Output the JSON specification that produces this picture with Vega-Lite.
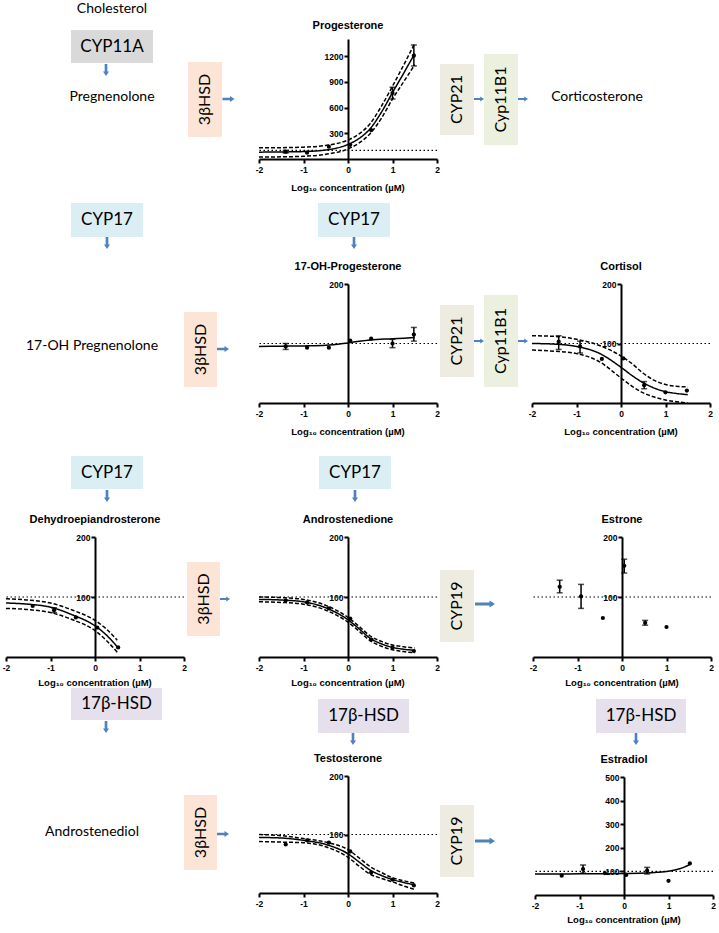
{
"$schema":"https://vega.github.io/schema/vega-lite/v6.json",
"padding":0,
"spacing":0,
"config":{"view":{"stroke":null},"concat":{"spacing":0},
 "title":{"font":"Liberation Sans","fontWeight":"bold","fontSize":11,"color":"black","offset":8},
 "axis":{"grid":false,"domainColor":"black","domainWidth":2,"tickColor":"black","tickWidth":2,"tickSize":4,"labelFont":"Liberation Sans","labelFontWeight":"bold","labelFontSize":8.5,"labelColor":"black","labelPadding":1,"labelOverlap":false},
 "axisX":{"labelPadding":2,"labelFlush":false}},
"vconcat":[
{"spacing":0,"hconcat":[
 {"width":65,"height":195,"data":{"values":[]},"mark":"point"},
 {"spacing":0,"vconcat":[
  {"width":94,"height":18,"data":{"values":[{"t":"Cholesterol"}]},"mark":{"type":"text","font":"Lato","fontSize":14,"color":"black"},"encoding":{"text":{"field":"t"}}},
  {"width":94,"height":12,"data":{"values":[]},"mark":"point"},
  {"spacing":0,"bounds":"flush","hconcat":[
   {"width":6,"height":33,"data":{"values":[]},"mark":"point"},
   {"width":82,"height":33,"data":{"values":[{"t":"CYP11A"}]},"layer":[{"mark":{"type":"rect","color":"#d9d9d9"}},{"mark":{"type":"text","font":"Lato","fontSize":17,"color":"black"},"encoding":{"text":{"field":"t"}}}]},
   {"width":6,"height":33,"data":{"values":[]},"mark":"point"}]},
  {"spacing":0,"bounds":"flush","hconcat":[
   {"width":34,"height":14,"data":{"values":[]},"mark":"point"},
   {"width":14,"height":14,"data":{"values":[{}]},"mark":{"type":"point","shape":"M-0.22,-1L0.22,-1L0.22,0.25L0.5,0.25L0,1L-0.5,0.25L-0.22,0.25Z","size":144,"filled":true,"color":"#4f81bd","opacity":1,"strokeWidth":0}},
   {"width":46,"height":14,"data":{"values":[]},"mark":"point"}]},
  {"width":94,"height":12,"data":{"values":[]},"mark":"point"},
  {"width":94,"height":16,"data":{"values":[{"t":"Pregnenolone"}]},"mark":{"type":"text","font":"Lato","fontSize":14,"color":"black"},"encoding":{"text":{"field":"t"}}},
  {"width":94,"height":90,"data":{"values":[]},"mark":"point"}]},
 {"width":29,"height":195,"data":{"values":[]},"mark":"point"},
 {"spacing":0,"bounds":"flush","vconcat":[
  {"width":34,"height":62,"data":{"values":[]},"mark":"point"},
  {"width":34,"height":75,"data":{"values":[{"t":"3βHSD"}]},"layer":[{"mark":{"type":"rect","color":"#fce4d6"}},{"mark":{"type":"text","font":"Lato","fontSize":16,"angle":270,"color":"black"},"encoding":{"text":{"field":"t"}}}]},
  {"width":34,"height":58,"data":{"values":[]},"mark":"point"}]},
 {"spacing":0,"bounds":"flush","vconcat":[
  {"width":13,"height":92,"data":{"values":[]},"mark":"point"},
  {"width":13,"height":14,"data":{"values":[{}]},"mark":{"type":"point","shape":"M-1,-0.22L0.25,-0.22L0.25,-0.5L1,0L0.25,0.5L0.25,0.22L-1,0.22Z","size":144,"filled":true,"color":"#4f81bd","opacity":1,"strokeWidth":0}},
  {"width":13,"height":89,"data":{"values":[]},"mark":"point"}]},
 {"width":20,"height":195,"data":{"values":[]},"mark":"point"},
 {"spacing":0,"bounds":"flush","vconcat":[
  {"width":178,"height":39,"data":{"values":[]},"mark":"point"},
  {"width":178,"height":120,"title":"Progesterone","layer":[
   {"data":{"values":[{"y":100}]},"mark":{"type":"rule","strokeDash":[1.5,2.5],"strokeWidth":1.2,"color":"black"},"encoding":{"y":{"field":"y","type":"quantitative","scale":{"domain":[0,1400],"nice":false},"axis":{"values":[300,600,900,1200],"offset":-89,"title":null,"format":"d"}}}},
   {"data":{"values":[
    {"b":"f","x":-2,"y":80},{"b":"f","x":-1.5,"y":82},{"b":"f","x":-1,"y":87},{"b":"f","x":-0.5,"y":105},{"b":"f","x":0,"y":170},{"b":"f","x":0.25,"y":240},{"b":"f","x":0.5,"y":355},{"b":"f","x":0.75,"y":545},{"b":"f","x":1,"y":775},{"b":"f","x":1.25,"y":1000},{"b":"f","x":1.5,"y":1230},
    {"b":"u","x":-2,"y":130},{"b":"u","x":-1.5,"y":132},{"b":"u","x":-1,"y":138},{"b":"u","x":-0.5,"y":158},{"b":"u","x":0,"y":222},{"b":"u","x":0.25,"y":292},{"b":"u","x":0.5,"y":415},{"b":"u","x":0.75,"y":615},{"b":"u","x":1,"y":850},{"b":"u","x":1.25,"y":1095},{"b":"u","x":1.5,"y":1350},
    {"b":"l","x":-2,"y":22},{"b":"l","x":-1.5,"y":25},{"b":"l","x":-1,"y":32},{"b":"l","x":-0.5,"y":55},{"b":"l","x":0,"y":118},{"b":"l","x":0.25,"y":188},{"b":"l","x":0.5,"y":298},{"b":"l","x":0.75,"y":475},{"b":"l","x":1,"y":700},{"b":"l","x":1.25,"y":900},{"b":"l","x":1.5,"y":1100}]},
    "mark":{"type":"line","interpolate":"monotone","color":"black","strokeWidth":1.5},
    "encoding":{"x":{"field":"x","type":"quantitative","scale":{"domain":[-2,2],"nice":false},"axis":{"values":[-2,-1,0,1,2],"title":null,"labelExpr":"replace(datum.label,'−','-')"}},"y":{"field":"y","type":"quantitative","scale":{"domain":[0,1400],"nice":false},"axis":{"values":[300,600,900,1200],"offset":-89,"title":null,"format":"d"}},"detail":{"field":"b"},"strokeDash":{"field":"b","type":"nominal","scale":{"domain":["f","u","l"],"range":[[1,0],[4,2],[4,2]]},"legend":null}}},
   {"data":{"values":[{"x":-1.4,"lo":70,"hi":100},{"x":1,"lo":700,"hi":837},{"x":1.48,"lo":1085,"hi":1330}]},
    "mark":{"type":"errorbar","ticks":true,"size":6,"thickness":1.5,"color":"black"},
    "encoding":{"x":{"field":"x","type":"quantitative","scale":{"domain":[-2,2],"nice":false},"axis":{"values":[-2,-1,0,1,2],"title":null,"labelExpr":"replace(datum.label,'−','-')"}},"y":{"field":"lo","type":"quantitative","scale":{"domain":[0,1400],"nice":false},"axis":{"values":[300,600,900,1200],"offset":-89,"title":null,"format":"d"}},"y2":{"field":"hi"}}},
   {"data":{"values":[{"x":-1.4,"y":85},{"x":-0.92,"y":74},{"x":-0.43,"y":144},{"x":0.05,"y":165},{"x":0.52,"y":338},{"x":1,"y":770},{"x":1.48,"y":1205}]},
    "mark":{"type":"circle","size":18,"color":"black","opacity":1},
    "encoding":{"x":{"field":"x","type":"quantitative","scale":{"domain":[-2,2],"nice":false},"axis":{"values":[-2,-1,0,1,2],"title":null,"labelExpr":"replace(datum.label,'−','-')"}},"y":{"field":"y","type":"quantitative","scale":{"domain":[0,1400],"nice":false},"axis":{"values":[300,600,900,1200],"offset":-89,"title":null,"format":"d"}}}}
  ]},
  {"width":178,"height":23,"data":{"values":[]},"mark":"point"},
  {"width":178,"height":12,"data":{"values":[{"t":"Log₁₀ concentration (µM)"}]},"mark":{"type":"text","font":"Liberation Sans","fontWeight":"bold","fontSize":9.5,"color":"black"},"encoding":{"text":{"field":"t"}}},
  {"width":178,"height":1,"data":{"values":[]},"mark":"point"}]},
 {"spacing":0,"bounds":"flush","vconcat":[
  {"width":34,"height":64,"data":{"values":[]},"mark":"point"},
  {"width":34,"height":71,"data":{"values":[{"t":"CYP21"}]},"layer":[{"mark":{"type":"rect","color":"#eeece1"}},{"mark":{"type":"text","font":"Lato","fontSize":16,"angle":270,"color":"black"},"encoding":{"text":{"field":"t"}}}]},
  {"width":34,"height":60,"data":{"values":[]},"mark":"point"}]},
 {"spacing":0,"bounds":"flush","vconcat":[
  {"width":10,"height":92,"data":{"values":[]},"mark":"point"},
  {"width":10,"height":14,"data":{"values":[{}]},"mark":{"type":"point","shape":"M-1,-0.22L0.25,-0.22L0.25,-0.5L1,0L0.25,0.5L0.25,0.22L-1,0.22Z","size":100,"filled":true,"color":"#4f81bd","opacity":1,"strokeWidth":0}},
  {"width":10,"height":89,"data":{"values":[]},"mark":"point"}]},
 {"spacing":0,"bounds":"flush","vconcat":[
  {"width":34,"height":54,"data":{"values":[]},"mark":"point"},
  {"width":34,"height":91,"data":{"values":[{"t":"Cyp11B1"}]},"layer":[{"mark":{"type":"rect","color":"#ebf1de"}},{"mark":{"type":"text","font":"Lato","fontSize":16,"angle":270,"color":"black"},"encoding":{"text":{"field":"t"}}}]},
  {"width":34,"height":50,"data":{"values":[]},"mark":"point"}]},
 {"spacing":0,"bounds":"flush","vconcat":[
  {"width":10,"height":92,"data":{"values":[]},"mark":"point"},
  {"width":10,"height":14,"data":{"values":[{}]},"mark":{"type":"point","shape":"M-1,-0.22L0.25,-0.22L0.25,-0.5L1,0L0.25,0.5L0.25,0.22L-1,0.22Z","size":100,"filled":true,"color":"#4f81bd","opacity":1,"strokeWidth":0}},
  {"width":10,"height":89,"data":{"values":[]},"mark":"point"}]},
 {"spacing":0,"bounds":"flush","vconcat":[
  {"width":138,"height":89,"data":{"values":[]},"mark":"point"},
  {"width":138,"height":16,"data":{"values":[{"t":"Corticosterone"}]},"mark":{"type":"text","font":"Lato","fontSize":14,"color":"black"},"encoding":{"text":{"field":"t"}}},
  {"width":138,"height":90,"data":{"values":[]},"mark":"point"}]},
 {"width":53,"height":195,"data":{"values":[]},"mark":"point"}
]},

{"spacing":0,"hconcat":[
 {"spacing":0,"vconcat":[
  {"spacing":0,"hconcat":[
   {"width":71,"height":54,"data":{"values":[]},"mark":"point"},
   {"spacing":0,"bounds":"flush","vconcat":[
    {"width":72,"height":8,"data":{"values":[]},"mark":"point"},
    {"width":72,"height":34,"data":{"values":[{"t":"CYP17"}]},"layer":[{"mark":{"type":"rect","color":"#dbeef4"}},{"mark":{"type":"text","font":"Lato","fontSize":17,"color":"black"},"encoding":{"text":{"field":"t"}}}]},
    {"width":72,"height":12,"data":{"values":[{}]},"mark":{"type":"point","shape":"M-0.22,-1L0.22,-1L0.22,0.25L0.5,0.25L0,1L-0.5,0.25L-0.22,0.25Z","size":144,"filled":true,"color":"#4f81bd","opacity":1,"strokeWidth":0}}]},
   {"width":41,"height":54,"data":{"values":[]},"mark":"point"}]},
  {"width":184,"height":89,"data":{"values":[]},"mark":"point"},
  {"width":184,"height":16,"data":{"values":[{"t":"17-OH Pregnenolone"}]},"mark":{"type":"text","font":"Lato","fontSize":14,"color":"black"},"encoding":{"text":{"field":"t"}}},
  {"width":184,"height":86,"data":{"values":[]},"mark":"point"}]},
 {"spacing":0,"bounds":"flush","vconcat":[
  {"width":33,"height":117,"data":{"values":[]},"mark":"point"},
  {"width":33,"height":75,"data":{"values":[{"t":"3βHSD"}]},"layer":[{"mark":{"type":"rect","color":"#fce4d6"}},{"mark":{"type":"text","font":"Lato","fontSize":16,"angle":270,"color":"black"},"encoding":{"text":{"field":"t"}}}]},
  {"width":33,"height":53,"data":{"values":[]},"mark":"point"}]},
 {"spacing":0,"bounds":"flush","vconcat":[
  {"width":12,"height":147,"data":{"values":[]},"mark":"point"},
  {"width":12,"height":14,"data":{"values":[{}]},"mark":{"type":"point","shape":"M-1,-0.22L0.25,-0.22L0.25,-0.5L1,0L0.25,0.5L0.25,0.22L-1,0.22Z","size":144,"filled":true,"color":"#4f81bd","opacity":1,"strokeWidth":0}},
  {"width":12,"height":84,"data":{"values":[]},"mark":"point"}]},
 {"width":26,"height":245,"data":{"values":[]},"mark":"point"},
 {"spacing":0,"vconcat":[
  {"spacing":0,"hconcat":[
   {"width":59,"height":54,"data":{"values":[]},"mark":"point"},
   {"spacing":0,"bounds":"flush","vconcat":[
    {"width":72,"height":8,"data":{"values":[]},"mark":"point"},
    {"width":72,"height":34,"data":{"values":[{"t":"CYP17"}]},"layer":[{"mark":{"type":"rect","color":"#dbeef4"}},{"mark":{"type":"text","font":"Lato","fontSize":17,"color":"black"},"encoding":{"text":{"field":"t"}}}]},
    {"width":72,"height":12,"data":{"values":[{}]},"mark":{"type":"point","shape":"M-0.22,-1L0.22,-1L0.22,0.25L0.5,0.25L0,1L-0.5,0.25L-0.22,0.25Z","size":144,"filled":true,"color":"#4f81bd","opacity":1,"strokeWidth":0}}]},
   {"width":47,"height":54,"data":{"values":[]},"mark":"point"}]},
  {"spacing":0,"bounds":"flush","vconcat":[
   {"width":178,"height":35,"data":{"values":[]},"mark":"point"},
   {"width":178,"height":119,"title":"17-OH-Progesterone","layer":[
    {"data":{"values":[{"y":100}]},"mark":{"type":"rule","strokeDash":[1.5,2.5],"strokeWidth":1.2,"color":"black"},"encoding":{"y":{"field":"y","type":"quantitative","scale":{"domain":[0,200],"nice":false},"axis":{"values":[200],"offset":-89,"title":null,"format":"d"}}}},
    {"data":{"values":[{"b":"f","x":-2,"y":95},{"b":"f","x":-1.5,"y":95.5},{"b":"f","x":-1,"y":96},{"b":"f","x":-0.5,"y":97},{"b":"f","x":0,"y":101},{"b":"f","x":0.5,"y":106},{"b":"f","x":1,"y":108},{"b":"f","x":1.5,"y":110}]},
     "mark":{"type":"line","interpolate":"monotone","color":"black","strokeWidth":1.5},
     "encoding":{"x":{"field":"x","type":"quantitative","scale":{"domain":[-2,2],"nice":false},"axis":{"values":[-2,-1,0,1,2],"title":null,"labelExpr":"replace(datum.label,'−','-')"}},"y":{"field":"y","type":"quantitative","scale":{"domain":[0,200],"nice":false},"axis":{"values":[200],"offset":-89,"title":null,"format":"d"}},"detail":{"field":"b"}}},
    {"data":{"values":[{"x":-1.4,"lo":90,"hi":100},{"x":1,"lo":93,"hi":107},{"x":1.48,"lo":104,"hi":127}]},
     "mark":{"type":"errorbar","ticks":true,"size":6,"thickness":1.5,"color":"black"},
     "encoding":{"x":{"field":"x","type":"quantitative","scale":{"domain":[-2,2],"nice":false},"axis":{"values":[-2,-1,0,1,2],"title":null,"labelExpr":"replace(datum.label,'−','-')"}},"y":{"field":"lo","type":"quantitative","scale":{"domain":[0,200],"nice":false},"axis":{"values":[200],"offset":-89,"title":null,"format":"d"}},"y2":{"field":"hi"}}},
    {"data":{"values":[{"x":-1.4,"y":95},{"x":-0.92,"y":93},{"x":-0.43,"y":93},{"x":0.05,"y":105},{"x":0.52,"y":108},{"x":1,"y":100},{"x":1.48,"y":115}]},
     "mark":{"type":"circle","size":18,"color":"black","opacity":1},
     "encoding":{"x":{"field":"x","type":"quantitative","scale":{"domain":[-2,2],"nice":false},"axis":{"values":[-2,-1,0,1,2],"title":null,"labelExpr":"replace(datum.label,'−','-')"}},"y":{"field":"y","type":"quantitative","scale":{"domain":[0,200],"nice":false},"axis":{"values":[200],"offset":-89,"title":null,"format":"d"}}}}
   ]},
   {"width":178,"height":23,"data":{"values":[]},"mark":"point"},
   {"width":178,"height":12,"data":{"values":[{"t":"Log₁₀ concentration (µM)"}]},"mark":{"type":"text","font":"Liberation Sans","fontWeight":"bold","fontSize":9.5,"color":"black"},"encoding":{"text":{"field":"t"}}},
   {"width":178,"height":2,"data":{"values":[]},"mark":"point"}]}]},
 {"spacing":0,"bounds":"flush","vconcat":[
  {"width":34,"height":110,"data":{"values":[]},"mark":"point"},
  {"width":34,"height":72,"data":{"values":[{"t":"CYP21"}]},"layer":[{"mark":{"type":"rect","color":"#eeece1"}},{"mark":{"type":"text","font":"Lato","fontSize":16,"angle":270,"color":"black"},"encoding":{"text":{"field":"t"}}}]},
  {"width":34,"height":63,"data":{"values":[]},"mark":"point"}]},
 {"spacing":0,"bounds":"flush","vconcat":[
  {"width":10,"height":139,"data":{"values":[]},"mark":"point"},
  {"width":10,"height":14,"data":{"values":[{}]},"mark":{"type":"point","shape":"M-1,-0.22L0.25,-0.22L0.25,-0.5L1,0L0.25,0.5L0.25,0.22L-1,0.22Z","size":100,"filled":true,"color":"#4f81bd","opacity":1,"strokeWidth":0}},
  {"width":10,"height":92,"data":{"values":[]},"mark":"point"}]},
 {"spacing":0,"bounds":"flush","vconcat":[
  {"width":34,"height":100,"data":{"values":[]},"mark":"point"},
  {"width":34,"height":92,"data":{"values":[{"t":"Cyp11B1"}]},"layer":[{"mark":{"type":"rect","color":"#ebf1de"}},{"mark":{"type":"text","font":"Lato","fontSize":16,"angle":270,"color":"black"},"encoding":{"text":{"field":"t"}}}]},
  {"width":34,"height":53,"data":{"values":[]},"mark":"point"}]},
 {"spacing":0,"bounds":"flush","vconcat":[
  {"width":10,"height":139,"data":{"values":[]},"mark":"point"},
  {"width":10,"height":14,"data":{"values":[{}]},"mark":{"type":"point","shape":"M-1,-0.22L0.25,-0.22L0.25,-0.5L1,0L0.25,0.5L0.25,0.22L-1,0.22Z","size":100,"filled":true,"color":"#4f81bd","opacity":1,"strokeWidth":0}},
  {"width":10,"height":92,"data":{"values":[]},"mark":"point"}]},
 {"spacing":0,"bounds":"flush","vconcat":[
  {"width":178,"height":89,"data":{"values":[]},"mark":"point"},
  {"width":178,"height":119,"title":"Cortisol","layer":[
   {"data":{"values":[{"y":100}]},"mark":{"type":"rule","strokeDash":[1.5,2.5],"strokeWidth":1.2,"color":"black"},"encoding":{"y":{"field":"y","type":"quantitative","scale":{"domain":[0,200],"nice":false},"axis":{"values":[100,200],"offset":-89,"title":null,"format":"d"}}}},
   {"data":{"values":[
    {"b":"f","x":-2,"y":100},{"b":"f","x":-1.5,"y":99},{"b":"f","x":-1,"y":95},{"b":"f","x":-0.5,"y":84},{"b":"f","x":0,"y":60},{"b":"f","x":0.25,"y":46},{"b":"f","x":0.5,"y":34},{"b":"f","x":0.75,"y":25},{"b":"f","x":1,"y":19},{"b":"f","x":1.25,"y":16},{"b":"f","x":1.5,"y":14},
    {"b":"u","x":-2,"y":113},{"b":"u","x":-1.5,"y":112},{"b":"u","x":-1,"y":107},{"b":"u","x":-0.5,"y":97},{"b":"u","x":0,"y":79},{"b":"u","x":0.25,"y":66},{"b":"u","x":0.5,"y":50},{"b":"u","x":0.75,"y":38},{"b":"u","x":1,"y":31},{"b":"u","x":1.25,"y":28},{"b":"u","x":1.5,"y":27},
    {"b":"l","x":-2,"y":89},{"b":"l","x":-1.5,"y":87},{"b":"l","x":-1,"y":83},{"b":"l","x":-0.5,"y":70},{"b":"l","x":0,"y":42},{"b":"l","x":0.25,"y":28},{"b":"l","x":0.5,"y":17},{"b":"l","x":0.75,"y":10},{"b":"l","x":1,"y":5},{"b":"l","x":1.25,"y":2},{"b":"l","x":1.5,"y":0}]},
    "mark":{"type":"line","interpolate":"monotone","color":"black","strokeWidth":1.5},
    "encoding":{"x":{"field":"x","type":"quantitative","scale":{"domain":[-2,2],"nice":false},"axis":{"values":[-2,-1,0,1,2],"title":null,"labelExpr":"replace(datum.label,'−','-')"}},"y":{"field":"y","type":"quantitative","scale":{"domain":[0,200],"nice":false},"axis":{"values":[100,200],"offset":-89,"title":null,"format":"d"}},"detail":{"field":"b"},"strokeDash":{"field":"b","type":"nominal","scale":{"domain":["f","u","l"],"range":[[1,0],[4,2],[4,2]]},"legend":null}}},
   {"data":{"values":[{"x":-1.4,"lo":90,"hi":113},{"x":-0.92,"lo":84,"hi":104},{"x":0.52,"lo":24,"hi":36}]},
    "mark":{"type":"errorbar","ticks":true,"size":6,"thickness":1.5,"color":"black"},
    "encoding":{"x":{"field":"x","type":"quantitative","scale":{"domain":[-2,2],"nice":false},"axis":{"values":[-2,-1,0,1,2],"title":null,"labelExpr":"replace(datum.label,'−','-')"}},"y":{"field":"lo","type":"quantitative","scale":{"domain":[0,200],"nice":false},"axis":{"values":[100,200],"offset":-89,"title":null,"format":"d"}},"y2":{"field":"hi"}}},
   {"data":{"values":[{"x":-1.4,"y":103},{"x":-0.92,"y":95},{"x":-0.43,"y":74},{"x":0.05,"y":75},{"x":0.52,"y":30},{"x":1,"y":18},{"x":1.48,"y":21}]},
    "mark":{"type":"circle","size":18,"color":"black","opacity":1},
    "encoding":{"x":{"field":"x","type":"quantitative","scale":{"domain":[-2,2],"nice":false},"axis":{"values":[-2,-1,0,1,2],"title":null,"labelExpr":"replace(datum.label,'−','-')"}},"y":{"field":"y","type":"quantitative","scale":{"domain":[0,200],"nice":false},"axis":{"values":[100,200],"offset":-89,"title":null,"format":"d"}}}}
  ]},
  {"width":178,"height":23,"data":{"values":[]},"mark":"point"},
  {"width":178,"height":12,"data":{"values":[{"t":"Log₁₀ concentration (µM)"}]},"mark":{"type":"text","font":"Liberation Sans","fontWeight":"bold","fontSize":9.5,"color":"black"},"encoding":{"text":{"field":"t"}}},
  {"width":178,"height":2,"data":{"values":[]},"mark":"point"}]},
 {"width":6,"height":245,"data":{"values":[]},"mark":"point"}
]},

{"spacing":0,"hconcat":[
 {"spacing":0,"vconcat":[
  {"spacing":0,"hconcat":[
   {"width":71,"height":63,"data":{"values":[]},"mark":"point"},
   {"spacing":0,"bounds":"flush","vconcat":[
    {"width":72,"height":16,"data":{"values":[]},"mark":"point"},
    {"width":72,"height":33,"data":{"values":[{"t":"CYP17"}]},"layer":[{"mark":{"type":"rect","color":"#dbeef4"}},{"mark":{"type":"text","font":"Lato","fontSize":17,"color":"black"},"encoding":{"text":{"field":"t"}}}]},
    {"width":72,"height":14,"data":{"values":[{}]},"mark":{"type":"point","shape":"M-0.22,-1L0.22,-1L0.22,0.25L0.5,0.25L0,1L-0.5,0.25L-0.22,0.25Z","size":144,"filled":true,"color":"#4f81bd","opacity":1,"strokeWidth":0}}]},
   {"width":41,"height":63,"data":{"values":[]},"mark":"point"}]},
  {"spacing":0,"hconcat":[
   {"width":2,"height":185,"data":{"values":[]},"mark":"point"},
   {"spacing":0,"bounds":"flush","vconcat":[
    {"width":178,"height":34,"data":{"values":[]},"mark":"point"},
    {"width":178,"height":120,"title":"Dehydroepiandrosterone","layer":[
     {"data":{"values":[{"y":100}]},"mark":{"type":"rule","strokeDash":[1.5,2.5],"strokeWidth":1.2,"color":"black"},"encoding":{"y":{"field":"y","type":"quantitative","scale":{"domain":[0,200],"nice":false},"axis":{"values":[100,200],"offset":-89,"title":null,"format":"d"}}}},
     {"data":{"values":[
      {"b":"f","x":-2,"y":90},{"b":"f","x":-1.5,"y":88},{"b":"f","x":-1,"y":83},{"b":"f","x":-0.5,"y":70},{"b":"f","x":0,"y":52},{"b":"f","x":0.25,"y":37},{"b":"f","x":0.5,"y":17},
      {"b":"u","x":-2,"y":97},{"b":"u","x":-1.5,"y":95},{"b":"u","x":-1,"y":90},{"b":"u","x":-0.5,"y":78},{"b":"u","x":0,"y":61},{"b":"u","x":0.25,"y":47},{"b":"u","x":0.5,"y":28},
      {"b":"l","x":-2,"y":81},{"b":"l","x":-1.5,"y":79},{"b":"l","x":-1,"y":74},{"b":"l","x":-0.5,"y":62},{"b":"l","x":0,"y":44},{"b":"l","x":0.25,"y":28},{"b":"l","x":0.5,"y":8}]},
      "mark":{"type":"line","interpolate":"monotone","color":"black","strokeWidth":1.5},
      "encoding":{"x":{"field":"x","type":"quantitative","scale":{"domain":[-2,2],"nice":false},"axis":{"values":[-2,-1,0,1,2],"title":null,"labelExpr":"replace(datum.label,'−','-')"}},"y":{"field":"y","type":"quantitative","scale":{"domain":[0,200],"nice":false},"axis":{"values":[100,200],"offset":-89,"title":null,"format":"d"}},"detail":{"field":"b"},"strokeDash":{"field":"b","type":"nominal","scale":{"domain":["f","u","l"],"range":[[1,0],[4,2],[4,2]]},"legend":null}}},
     {"data":{"values":[{"x":-0.92,"lo":74,"hi":82}]},
      "mark":{"type":"errorbar","ticks":true,"size":6,"thickness":1.5,"color":"black"},
      "encoding":{"x":{"field":"x","type":"quantitative","scale":{"domain":[-2,2],"nice":false},"axis":{"values":[-2,-1,0,1,2],"title":null,"labelExpr":"replace(datum.label,'−','-')"}},"y":{"field":"lo","type":"quantitative","scale":{"domain":[0,200],"nice":false},"axis":{"values":[100,200],"offset":-89,"title":null,"format":"d"}},"y2":{"field":"hi"}}},
     {"data":{"values":[{"x":-1.4,"y":85},{"x":-0.92,"y":78},{"x":-0.43,"y":66},{"x":0.05,"y":49},{"x":0.52,"y":16}]},
      "mark":{"type":"circle","size":18,"color":"black","opacity":1},
      "encoding":{"x":{"field":"x","type":"quantitative","scale":{"domain":[-2,2],"nice":false},"axis":{"values":[-2,-1,0,1,2],"title":null,"labelExpr":"replace(datum.label,'−','-')"}},"y":{"field":"y","type":"quantitative","scale":{"domain":[0,200],"nice":false},"axis":{"values":[100,200],"offset":-89,"title":null,"format":"d"}}}}
    ]},
    {"width":178,"height":21,"data":{"values":[]},"mark":"point"},
    {"width":178,"height":10,"data":{"values":[{"t":"Log₁₀ concentration (µM)"}]},"mark":{"type":"text","font":"Liberation Sans","fontWeight":"bold","fontSize":9.5,"color":"black"},"encoding":{"text":{"field":"t"}}}]}]}]},
 {"spacing":0,"bounds":"flush","vconcat":[
  {"width":33,"height":122,"data":{"values":[]},"mark":"point"},
  {"width":33,"height":74,"data":{"values":[{"t":"3βHSD"}]},"layer":[{"mark":{"type":"rect","color":"#fce4d6"}},{"mark":{"type":"text","font":"Lato","fontSize":16,"angle":270,"color":"black"},"encoding":{"text":{"field":"t"}}}]},
  {"width":33,"height":52,"data":{"values":[]},"mark":"point"}]},
 {"spacing":0,"bounds":"flush","vconcat":[
  {"width":10,"height":152,"data":{"values":[]},"mark":"point"},
  {"width":10,"height":14,"data":{"values":[{}]},"mark":{"type":"point","shape":"M-1,-0.22L0.25,-0.22L0.25,-0.5L1,0L0.25,0.5L0.25,0.22L-1,0.22Z","size":100,"filled":true,"color":"#4f81bd","opacity":1,"strokeWidth":0}},
  {"width":10,"height":82,"data":{"values":[]},"mark":"point"}]},
 {"width":25,"height":248,"data":{"values":[]},"mark":"point"},
 {"spacing":0,"vconcat":[
  {"spacing":0,"hconcat":[
   {"width":60,"height":63,"data":{"values":[]},"mark":"point"},
   {"spacing":0,"bounds":"flush","vconcat":[
    {"width":72,"height":16,"data":{"values":[]},"mark":"point"},
    {"width":72,"height":33,"data":{"values":[{"t":"CYP17"}]},"layer":[{"mark":{"type":"rect","color":"#dbeef4"}},{"mark":{"type":"text","font":"Lato","fontSize":17,"color":"black"},"encoding":{"text":{"field":"t"}}}]},
    {"width":72,"height":14,"data":{"values":[{}]},"mark":{"type":"point","shape":"M-0.22,-1L0.22,-1L0.22,0.25L0.5,0.25L0,1L-0.5,0.25L-0.22,0.25Z","size":144,"filled":true,"color":"#4f81bd","opacity":1,"strokeWidth":0}}]},
   {"width":46,"height":63,"data":{"values":[]},"mark":"point"}]},
  {"spacing":0,"bounds":"flush","vconcat":[
   {"width":178,"height":34,"data":{"values":[]},"mark":"point"},
   {"width":178,"height":120,"title":"Androstenedione","layer":[
    {"data":{"values":[{"y":100}]},"mark":{"type":"rule","strokeDash":[1.5,2.5],"strokeWidth":1.2,"color":"black"},"encoding":{"y":{"field":"y","type":"quantitative","scale":{"domain":[0,200],"nice":false},"axis":{"values":[100,200],"offset":-89,"title":null,"format":"d"}}}},
    {"data":{"values":[
     {"b":"f","x":-2,"y":96},{"b":"f","x":-1.5,"y":95},{"b":"f","x":-1,"y":92},{"b":"f","x":-0.5,"y":82},{"b":"f","x":0,"y":62},{"b":"f","x":0.25,"y":47},{"b":"f","x":0.5,"y":31},{"b":"f","x":0.75,"y":22},{"b":"f","x":1,"y":16},{"b":"f","x":1.25,"y":13},{"b":"f","x":1.5,"y":11},
     {"b":"u","x":-2,"y":100},{"b":"u","x":-1.5,"y":99},{"b":"u","x":-1,"y":96},{"b":"u","x":-0.5,"y":86},{"b":"u","x":0,"y":66},{"b":"u","x":0.25,"y":51},{"b":"u","x":0.5,"y":35},{"b":"u","x":0.75,"y":26},{"b":"u","x":1,"y":20},{"b":"u","x":1.25,"y":17},{"b":"u","x":1.5,"y":15},
     {"b":"l","x":-2,"y":92},{"b":"l","x":-1.5,"y":91},{"b":"l","x":-1,"y":88},{"b":"l","x":-0.5,"y":78},{"b":"l","x":0,"y":58},{"b":"l","x":0.25,"y":43},{"b":"l","x":0.5,"y":27},{"b":"l","x":0.75,"y":18},{"b":"l","x":1,"y":12},{"b":"l","x":1.25,"y":9},{"b":"l","x":1.5,"y":7}]},
     "mark":{"type":"line","interpolate":"monotone","color":"black","strokeWidth":1.5},
     "encoding":{"x":{"field":"x","type":"quantitative","scale":{"domain":[-2,2],"nice":false},"axis":{"values":[-2,-1,0,1,2],"title":null,"labelExpr":"replace(datum.label,'−','-')"}},"y":{"field":"y","type":"quantitative","scale":{"domain":[0,200],"nice":false},"axis":{"values":[100,200],"offset":-89,"title":null,"format":"d"}},"detail":{"field":"b"},"strokeDash":{"field":"b","type":"nominal","scale":{"domain":["f","u","l"],"range":[[1,0],[4,2],[4,2]]},"legend":null}}},
    {"data":{"values":[{"x":-1.4,"y":94},{"x":-0.92,"y":91},{"x":-0.43,"y":81},{"x":0.05,"y":64},{"x":0.52,"y":29},{"x":1,"y":16},{"x":1.48,"y":10}]},
     "mark":{"type":"circle","size":18,"color":"black","opacity":1},
     "encoding":{"x":{"field":"x","type":"quantitative","scale":{"domain":[-2,2],"nice":false},"axis":{"values":[-2,-1,0,1,2],"title":null,"labelExpr":"replace(datum.label,'−','-')"}},"y":{"field":"y","type":"quantitative","scale":{"domain":[0,200],"nice":false},"axis":{"values":[100,200],"offset":-89,"title":null,"format":"d"}}}}
   ]},
   {"width":178,"height":21,"data":{"values":[]},"mark":"point"},
   {"width":178,"height":10,"data":{"values":[{"t":"Log₁₀ concentration (µM)"}]},"mark":{"type":"text","font":"Liberation Sans","fontWeight":"bold","fontSize":9.5,"color":"black"},"encoding":{"text":{"field":"t"}}}]}]},
 {"spacing":0,"bounds":"flush","vconcat":[
  {"width":34,"height":130,"data":{"values":[]},"mark":"point"},
  {"width":34,"height":72,"data":{"values":[{"t":"CYP19"}]},"layer":[{"mark":{"type":"rect","color":"#eeece1"}},{"mark":{"type":"text","font":"Lato","fontSize":16,"angle":270,"color":"black"},"encoding":{"text":{"field":"t"}}}]},
  {"width":34,"height":46,"data":{"values":[]},"mark":"point"}]},
 {"spacing":0,"bounds":"flush","vconcat":[
  {"width":22,"height":157,"data":{"values":[]},"mark":"point"},
  {"width":22,"height":14,"data":{"values":[{}]},"mark":{"type":"point","shape":"M-1,-0.16L0.45,-0.16L0.45,-0.36L1,0L0.45,0.36L0.45,0.16L-1,0.16Z","size":400,"filled":true,"color":"#4f81bd","opacity":1,"strokeWidth":0}},
  {"width":22,"height":77,"data":{"values":[]},"mark":"point"}]},
 {"width":33,"height":248,"data":{"values":[]},"mark":"point"},
 {"spacing":0,"bounds":"flush","vconcat":[
  {"width":178,"height":97,"data":{"values":[]},"mark":"point"},
  {"width":178,"height":120,"title":"Estrone","layer":[
   {"data":{"values":[{"y":100}]},"mark":{"type":"rule","strokeDash":[1.5,2.5],"strokeWidth":1.2,"color":"black"},"encoding":{"y":{"field":"y","type":"quantitative","scale":{"domain":[0,200],"nice":false},"axis":{"values":[100,200],"offset":-89,"title":null,"format":"d"}}}},
   {"data":{"values":[{"x":-1.4,"lo":107,"hi":128},{"x":-0.92,"lo":81,"hi":121},{"x":0.05,"lo":140,"hi":163},{"x":0.52,"lo":53,"hi":61}]},
    "mark":{"type":"errorbar","ticks":true,"size":6,"thickness":1.5,"color":"black"},
    "encoding":{"x":{"field":"x","type":"quantitative","scale":{"domain":[-2,2],"nice":false},"axis":{"values":[-2,-1,0,1,2],"title":null,"labelExpr":"replace(datum.label,'−','-')"}},"y":{"field":"lo","type":"quantitative","scale":{"domain":[0,200],"nice":false},"axis":{"values":[100,200],"offset":-89,"title":null,"format":"d"}},"y2":{"field":"hi"}}},
   {"data":{"values":[{"x":-1.4,"y":117},{"x":-0.92,"y":101},{"x":-0.43,"y":65},{"x":0.05,"y":152},{"x":0.52,"y":57},{"x":1,"y":50}]},
    "mark":{"type":"circle","size":18,"color":"black","opacity":1},
    "encoding":{"x":{"field":"x","type":"quantitative","scale":{"domain":[-2,2],"nice":false},"axis":{"values":[-2,-1,0,1,2],"title":null,"labelExpr":"replace(datum.label,'−','-')"}},"y":{"field":"y","type":"quantitative","scale":{"domain":[0,200],"nice":false},"axis":{"values":[100,200],"offset":-89,"title":null,"format":"d"}}}}
  ]},
  {"width":178,"height":21,"data":{"values":[]},"mark":"point"},
  {"width":178,"height":10,"data":{"values":[{"t":"Log₁₀ concentration (µM)"}]},"mark":{"type":"text","font":"Liberation Sans","fontWeight":"bold","fontSize":9.5,"color":"black"},"encoding":{"text":{"field":"t"}}}]},
 {"width":5,"height":248,"data":{"values":[]},"mark":"point"}
]},

{"spacing":0,"hconcat":[
 {"spacing":0,"vconcat":[
  {"spacing":0,"hconcat":[
   {"width":71,"height":46,"data":{"values":[]},"mark":"point"},
   {"spacing":0,"vconcat":[
    {"width":91,"height":32,"data":{"values":[{"t":"17β-HSD"}]},"layer":[{"mark":{"type":"rect","color":"#e5e0ec"}},{"mark":{"type":"text","font":"Lato","fontSize":17,"color":"black"},"encoding":{"text":{"field":"t"}}}]},
    {"spacing":0,"bounds":"flush","hconcat":[
     {"width":28,"height":14,"data":{"values":[]},"mark":"point"},
     {"width":14,"height":14,"data":{"values":[{}]},"mark":{"type":"point","shape":"M-0.22,-1L0.22,-1L0.22,0.25L0.5,0.25L0,1L-0.5,0.25L-0.22,0.25Z","size":144,"filled":true,"color":"#4f81bd","opacity":1,"strokeWidth":0}},
     {"width":49,"height":14,"data":{"values":[]},"mark":"point"}]}]},
   {"width":22,"height":46,"data":{"values":[]},"mark":"point"}]},
  {"width":184,"height":90,"data":{"values":[]},"mark":"point"},
  {"width":184,"height":16,"data":{"values":[{"t":"Androstenediol"}]},"mark":{"type":"text","font":"Lato","fontSize":14,"color":"black"},"encoding":{"text":{"field":"t"}}},
  {"width":184,"height":93,"data":{"values":[]},"mark":"point"}]},
 {"spacing":0,"bounds":"flush","vconcat":[
  {"width":33,"height":107,"data":{"values":[]},"mark":"point"},
  {"width":33,"height":75,"data":{"values":[{"t":"3βHSD"}]},"layer":[{"mark":{"type":"rect","color":"#fce4d6"}},{"mark":{"type":"text","font":"Lato","fontSize":16,"angle":270,"color":"black"},"encoding":{"text":{"field":"t"}}}]},
  {"width":33,"height":63,"data":{"values":[]},"mark":"point"}]},
 {"spacing":0,"bounds":"flush","vconcat":[
  {"width":12,"height":139,"data":{"values":[]},"mark":"point"},
  {"width":12,"height":14,"data":{"values":[{}]},"mark":{"type":"point","shape":"M-1,-0.22L0.25,-0.22L0.25,-0.5L1,0L0.25,0.5L0.25,0.22L-1,0.22Z","size":144,"filled":true,"color":"#4f81bd","opacity":1,"strokeWidth":0}},
  {"width":12,"height":92,"data":{"values":[]},"mark":"point"}]},
 {"width":26,"height":245,"data":{"values":[]},"mark":"point"},
 {"spacing":0,"vconcat":[
  {"spacing":0,"hconcat":[
   {"width":59,"height":57,"data":{"values":[]},"mark":"point"},
   {"spacing":0,"vconcat":[
    {"width":91,"height":11,"data":{"values":[]},"mark":"point"},
    {"width":91,"height":34,"data":{"values":[{"t":"17β-HSD"}]},"layer":[{"mark":{"type":"rect","color":"#e5e0ec"}},{"mark":{"type":"text","font":"Lato","fontSize":17,"color":"black"},"encoding":{"text":{"field":"t"}}}]},
    {"spacing":0,"bounds":"flush","hconcat":[
     {"width":28,"height":12,"data":{"values":[]},"mark":"point"},
     {"width":14,"height":12,"data":{"values":[{}]},"mark":{"type":"point","shape":"M-0.22,-1L0.22,-1L0.22,0.25L0.5,0.25L0,1L-0.5,0.25L-0.22,0.25Z","size":144,"filled":true,"color":"#4f81bd","opacity":1,"strokeWidth":0}},
     {"width":49,"height":12,"data":{"values":[]},"mark":"point"}]}]},
   {"width":28,"height":57,"data":{"values":[]},"mark":"point"}]},
  {"spacing":0,"bounds":"flush","vconcat":[
   {"width":178,"height":31,"data":{"values":[]},"mark":"point"},
   {"width":178,"height":117,"title":"Testosterone","layer":[
    {"data":{"values":[{"y":100}]},"mark":{"type":"rule","strokeDash":[1.5,2.5],"strokeWidth":1.2,"color":"black"},"encoding":{"y":{"field":"y","type":"quantitative","scale":{"domain":[0,200],"nice":false},"axis":{"values":[100,200],"offset":-89,"title":null,"format":"d"}}}},
    {"data":{"values":[
     {"b":"f","x":-2,"y":95},{"b":"f","x":-1.5,"y":94},{"b":"f","x":-1,"y":90},{"b":"f","x":-0.5,"y":83},{"b":"f","x":0,"y":67},{"b":"f","x":0.25,"y":53},{"b":"f","x":0.5,"y":39},{"b":"f","x":0.75,"y":30},{"b":"f","x":1,"y":23},{"b":"f","x":1.25,"y":18},{"b":"f","x":1.5,"y":14},
     {"b":"u","x":-2,"y":100},{"b":"u","x":-1.5,"y":98},{"b":"u","x":-1,"y":93},{"b":"u","x":-0.5,"y":87},{"b":"u","x":0,"y":74},{"b":"u","x":0.25,"y":60},{"b":"u","x":0.5,"y":45},{"b":"u","x":0.75,"y":35},{"b":"u","x":1,"y":26},{"b":"u","x":1.25,"y":21},{"b":"u","x":1.5,"y":17},
     {"b":"l","x":-2,"y":88},{"b":"l","x":-1.5,"y":87},{"b":"l","x":-1,"y":86},{"b":"l","x":-0.5,"y":79},{"b":"l","x":0,"y":61},{"b":"l","x":0.25,"y":46},{"b":"l","x":0.5,"y":32},{"b":"l","x":0.75,"y":25},{"b":"l","x":1,"y":19},{"b":"l","x":1.25,"y":12},{"b":"l","x":1.5,"y":6}]},
     "mark":{"type":"line","interpolate":"monotone","color":"black","strokeWidth":1.5},
     "encoding":{"x":{"field":"x","type":"quantitative","scale":{"domain":[-2,2],"nice":false},"axis":{"values":[-2,-1,0,1,2],"title":null,"labelExpr":"replace(datum.label,'−','-')"}},"y":{"field":"y","type":"quantitative","scale":{"domain":[0,200],"nice":false},"axis":{"values":[100,200],"offset":-89,"title":null,"format":"d"}},"detail":{"field":"b"},"strokeDash":{"field":"b","type":"nominal","scale":{"domain":["f","u","l"],"range":[[1,0],[4,2],[4,2]]},"legend":null}}},
    {"data":{"values":[{"x":-1.4,"y":83},{"x":-0.92,"y":90},{"x":-0.43,"y":86},{"x":0.05,"y":71},{"x":0.52,"y":35},{"x":1,"y":23},{"x":1.48,"y":13}]},
     "mark":{"type":"circle","size":18,"color":"black","opacity":1},
     "encoding":{"x":{"field":"x","type":"quantitative","scale":{"domain":[-2,2],"nice":false},"axis":{"values":[-2,-1,0,1,2],"title":null,"labelExpr":"replace(datum.label,'−','-')"}},"y":{"field":"y","type":"quantitative","scale":{"domain":[0,200],"nice":false},"axis":{"values":[100,200],"offset":-89,"title":null,"format":"d"}}}}
   ]},
   {"width":178,"height":40,"data":{"values":[]},"mark":"point"}]}]},
 {"spacing":0,"bounds":"flush","vconcat":[
  {"width":34,"height":117,"data":{"values":[]},"mark":"point"},
  {"width":34,"height":72,"data":{"values":[{"t":"CYP19"}]},"layer":[{"mark":{"type":"rect","color":"#eeece1"}},{"mark":{"type":"text","font":"Lato","fontSize":16,"angle":270,"color":"black"},"encoding":{"text":{"field":"t"}}}]},
  {"width":34,"height":56,"data":{"values":[]},"mark":"point"}]},
 {"spacing":0,"bounds":"flush","vconcat":[
  {"width":22,"height":146,"data":{"values":[]},"mark":"point"},
  {"width":22,"height":14,"data":{"values":[{}]},"mark":{"type":"point","shape":"M-1,-0.16L0.45,-0.16L0.45,-0.36L1,0L0.45,0.36L0.45,0.16L-1,0.16Z","size":400,"filled":true,"color":"#4f81bd","opacity":1,"strokeWidth":0}},
  {"width":22,"height":85,"data":{"values":[]},"mark":"point"}]},
 {"width":35,"height":245,"data":{"values":[]},"mark":"point"},
 {"spacing":0,"vconcat":[
  {"spacing":0,"hconcat":[
   {"width":61,"height":57,"data":{"values":[]},"mark":"point"},
   {"spacing":0,"vconcat":[
    {"width":90,"height":11,"data":{"values":[]},"mark":"point"},
    {"width":90,"height":34,"data":{"values":[{"t":"17β-HSD"}]},"layer":[{"mark":{"type":"rect","color":"#e5e0ec"}},{"mark":{"type":"text","font":"Lato","fontSize":17,"color":"black"},"encoding":{"text":{"field":"t"}}}]},
    {"spacing":0,"bounds":"flush","hconcat":[
     {"width":33,"height":12,"data":{"values":[]},"mark":"point"},
     {"width":14,"height":12,"data":{"values":[{}]},"mark":{"type":"point","shape":"M-0.22,-1L0.22,-1L0.22,0.25L0.5,0.25L0,1L-0.5,0.25L-0.22,0.25Z","size":144,"filled":true,"color":"#4f81bd","opacity":1,"strokeWidth":0}},
     {"width":43,"height":12,"data":{"values":[]},"mark":"point"}]}]},
   {"width":27,"height":57,"data":{"values":[]},"mark":"point"}]},
  {"spacing":0,"bounds":"flush","vconcat":[
   {"width":178,"height":32,"data":{"values":[]},"mark":"point"},
   {"width":178,"height":118,"title":"Estradiol","layer":[
    {"data":{"values":[{"y":100}]},"mark":{"type":"rule","strokeDash":[1.5,2.5],"strokeWidth":1.2,"color":"black"},"encoding":{"y":{"field":"y","type":"quantitative","scale":{"domain":[0,500],"nice":false},"axis":{"values":[100,200,300,400,500],"offset":-89,"title":null,"format":"d"}}}},
    {"data":{"values":[{"b":"f","x":-2,"y":89},{"b":"f","x":-1.5,"y":89},{"b":"f","x":-1,"y":90},{"b":"f","x":-0.5,"y":90},{"b":"f","x":0,"y":91},{"b":"f","x":0.5,"y":93},{"b":"f","x":0.75,"y":96},{"b":"f","x":1,"y":101},{"b":"f","x":1.25,"y":111},{"b":"f","x":1.5,"y":131}]},
     "mark":{"type":"line","interpolate":"monotone","color":"black","strokeWidth":1.5},
     "encoding":{"x":{"field":"x","type":"quantitative","scale":{"domain":[-2,2],"nice":false},"axis":{"values":[-2,-1,0,1,2],"title":null,"labelExpr":"replace(datum.label,'−','-')"}},"y":{"field":"y","type":"quantitative","scale":{"domain":[0,500],"nice":false},"axis":{"values":[100,200,300,400,500],"offset":-89,"title":null,"format":"d"}},"detail":{"field":"b"}}},
    {"data":{"values":[{"x":-0.92,"lo":93,"hi":127},{"x":0.52,"lo":89,"hi":117}]},
     "mark":{"type":"errorbar","ticks":true,"size":6,"thickness":1.5,"color":"black"},
     "encoding":{"x":{"field":"x","type":"quantitative","scale":{"domain":[-2,2],"nice":false},"axis":{"values":[-2,-1,0,1,2],"title":null,"labelExpr":"replace(datum.label,'−','-')"}},"y":{"field":"lo","type":"quantitative","scale":{"domain":[0,500],"nice":false},"axis":{"values":[100,200,300,400,500],"offset":-89,"title":null,"format":"d"}},"y2":{"field":"hi"}}},
    {"data":{"values":[{"x":-1.4,"y":82},{"x":-0.92,"y":110},{"x":-0.43,"y":93},{"x":0.05,"y":85},{"x":0.52,"y":103},{"x":1,"y":60},{"x":1.48,"y":134}]},
     "mark":{"type":"circle","size":18,"color":"black","opacity":1},
     "encoding":{"x":{"field":"x","type":"quantitative","scale":{"domain":[-2,2],"nice":false},"axis":{"values":[-2,-1,0,1,2],"title":null,"labelExpr":"replace(datum.label,'−','-')"}},"y":{"field":"y","type":"quantitative","scale":{"domain":[0,500],"nice":false},"axis":{"values":[100,200,300,400,500],"offset":-89,"title":null,"format":"d"}}}}
   ]},
   {"width":178,"height":19,"data":{"values":[]},"mark":"point"},
   {"width":178,"height":12,"data":{"values":[{"t":"Log₁₀ concentration (µM)"}]},"mark":{"type":"text","font":"Liberation Sans","fontWeight":"bold","fontSize":9.5,"color":"black"},"encoding":{"text":{"field":"t"}}},
   {"width":178,"height":7,"data":{"values":[]},"mark":"point"}]}]},
 {"width":3,"height":245,"data":{"values":[]},"mark":"point"}
]}
]
}
